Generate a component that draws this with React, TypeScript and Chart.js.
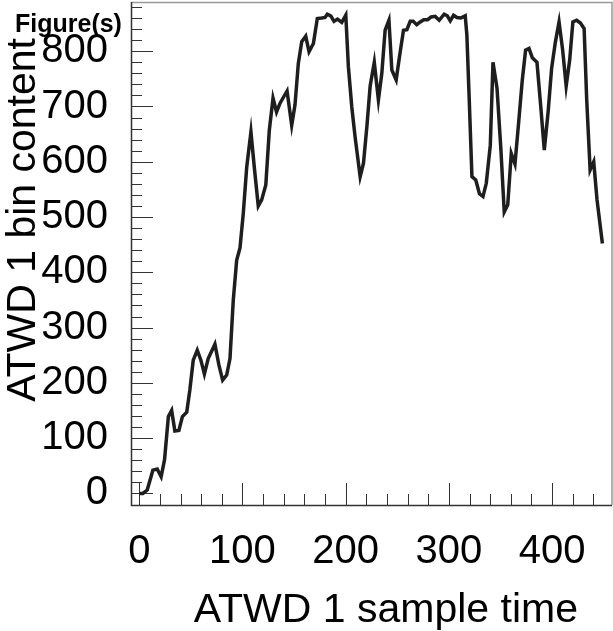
import React, { useEffect, useRef } from "react";
import { Chart, registerables } from "chart.js";

Chart.register(...registerables);

const FONT = '"Liberation Sans", Arial, Helvetica, sans-serif';

// ATWD 1 sample time (x) and bin content (y)
const sampleTime = [
  0, 3.5, 7.7, 13.2, 17.4, 21.2, 24.5, 28.2, 31.4, 34.5, 38.4, 41.8, 46, 49, 52.3, 56.2, 59.7, 63.1, 66.8, 73.3,
  77.2, 80.8, 84.7, 87.9, 91.1, 94.4, 97.6, 100.8, 104.1, 108.2, 111.4, 115.3, 118.6, 122.6, 126, 129.6, 133, 136.4,
  143.2, 147.7, 150.9, 154.1, 157.4, 161.3, 164.5, 168.7, 172.5, 176.8, 180, 182.2, 185.5, 188.7, 192, 196.2, 200.1,
  202.6, 205.9, 209.1, 214, 217.2, 220.5, 223.7, 227.7, 231.7, 235, 238.2, 241.9, 244.7, 248.9, 252.1, 256, 259.3,
  262.5, 265.4, 268.8, 272.2, 275.6, 279.4, 282.8, 286.7, 290.6, 295.4, 298.4, 301.3, 304.5, 307.8, 311.6, 315.8,
  317.4, 319.7, 322.3, 326, 329.6, 333, 336.2, 340.1, 342.7, 346.6, 350.4, 353.6, 357, 360.4, 364, 367.5, 371.1,
  374.3, 377.6, 380.8, 385.3, 388.8, 392.4, 396.1, 399.5, 403.1, 406.7, 410.2, 413.6, 417, 420.1, 423.8, 427.4, 431,
  433.5, 436.8, 440.3, 443.5, 448.7,
];
const binContent = [
  0, 0, 6, 42, 44, 30, 61, 139, 150, 113, 114, 139, 147, 187, 241, 259, 241, 216, 244, 270,
  232, 205, 214, 244, 350, 422, 444, 507, 590, 654, 591, 520, 531, 558, 657, 715, 690, 706,
  728, 666, 703, 778, 817, 827, 799, 814, 859, 860, 861, 867, 864, 854, 858, 852, 865,
  772, 699, 645, 573, 597, 663, 737, 780, 712, 760, 838, 856, 766, 748, 790, 838, 839,
  854, 854, 848, 853, 857, 857, 862, 863, 856, 867, 864, 855, 865, 861, 860, 864,
  829, 712, 573, 567, 542, 537, 561, 630, 780, 733, 621, 509, 522, 615, 596, 670, 748,
  802, 805, 788, 780, 704, 621, 690, 769, 816, 853, 802, 737, 784, 853, 856, 851, 841,
  712, 585, 600, 531, 452,
];

const xRange = [-8, 458];
const yRange = [-21, 889];
const xMajorTicks = [0, 100, 200, 300, 400];
const yMajorTicks = [0, 100, 200, 300, 400, 500, 600, 700, 800];
const xTitle = "ATWD 1 sample time";
const yTitle = "ATWD 1 bin content";
const cornerLabel = "Figure(s)";

export default function App() {
  const ref = useRef<HTMLCanvasElement>(null);

  useEffect(() => {
    document.body.style.margin = "0";
    const canvas = ref.current;
    if (!canvas) return;
    const n = Math.min(sampleTime.length, binContent.length);
    const points = [];
    for (let i = 0; i < n; i++) points.push({ x: sampleTime[i], y: binContent[i] });

    const framePlugin = {
      id: "rootFrame",
      beforeDatasetsDraw(chart: any) {
        const { ctx, chartArea: a, scales } = chart;
        const xs = scales.x;
        const ys = scales.y;
        ctx.save();
        ctx.lineWidth = 1;
        ctx.strokeStyle = "#333";
        for (let v = 0; v <= xRange[1]; v += 20) {
          const px = Math.round(xs.getPixelForValue(v)) + 0.5;
          if (px < a.left || px > a.right) continue;
          const len = xMajorTicks.includes(v) ? 22 : 11;
          ctx.beginPath();
          ctx.moveTo(px, a.bottom);
          ctx.lineTo(px, a.bottom - len);
          ctx.stroke();
        }
        for (let v = 0; v <= yRange[1]; v += 20) {
          const py = Math.round(ys.getPixelForValue(v)) + 0.5;
          if (py < a.top || py > a.bottom) continue;
          const len = yMajorTicks.includes(v) ? 22 : 11;
          ctx.beginPath();
          ctx.moveTo(a.left, py);
          ctx.lineTo(a.left + len, py);
          ctx.stroke();
        }
        ctx.strokeStyle = "#999";
        ctx.lineWidth = 1.5;
        ctx.beginPath();
        ctx.moveTo(a.left, a.top + 0.5);
        ctx.lineTo(a.right, a.top + 0.5);
        ctx.lineTo(a.right, a.bottom);
        ctx.stroke();
        ctx.strokeStyle = "#333";
        ctx.lineWidth = 1.5;
        ctx.beginPath();
        ctx.moveTo(a.left + 0.5, a.top);
        ctx.lineTo(a.left + 0.5, a.bottom + 0.5);
        ctx.lineTo(a.right, a.bottom + 0.5);
        ctx.stroke();
        ctx.restore();
      },
      afterDraw(chart: any) {
        const { ctx } = chart;
        ctx.save();
        ctx.fillStyle = "#000";
        ctx.font = `41px ${FONT}`;
        ctx.textAlign = "right";
        ctx.textBaseline = "alphabetic";
        ctx.fillText(xTitle, 578, 622);
        ctx.save();
        ctx.font = `41px ${FONT}`;
        ctx.translate(35, 38);
        ctx.rotate(-Math.PI / 2);
        ctx.textAlign = "right";
        ctx.fillText(yTitle, 0, 0);
        ctx.restore();
        ctx.font = `bold 25px ${FONT}`;
        ctx.textAlign = "left";
        ctx.fillText(cornerLabel, 15, 32);
        ctx.restore();
      },
    };

    const chart = new Chart(canvas, {
      type: "line",
      data: {
        datasets: [
          {
            label: yTitle,
            data: points,
            borderColor: "#1e1e1e",
            borderWidth: 3.5,
            pointRadius: 0,
            tension: 0,
            fill: false,
          },
        ],
      },
      options: {
        animation: false,
        responsive: false,
        devicePixelRatio: 1,
        layout: { padding: { top: 2, right: 1, left: 0, bottom: 0 } },
        plugins: { legend: { display: false }, tooltip: { enabled: false }, title: { display: false } },
        scales: {
          x: {
            type: "linear",
            min: xRange[0],
            max: xRange[1],
            grid: { display: false, drawTicks: false, tickLength: 0 },
            border: { display: false },
            afterBuildTicks(s: any) {
              s.ticks = xMajorTicks.map((v) => ({ value: v }));
            },
            ticks: {
              autoSkip: false,
              maxRotation: 0,
              padding: 23,
              color: "#000",
              font: { family: FONT, size: 40 },
            },
            afterFit(s: any) {
              s.height = 126;
              s.paddingLeft = 0;
              s.paddingRight = 0;
            },
          },
          y: {
            type: "linear",
            min: yRange[0],
            max: yRange[1],
            grid: { display: false, drawTicks: false, tickLength: 0 },
            border: { display: false },
            afterBuildTicks(s: any) {
              s.ticks = yMajorTicks.map((v) => ({ value: v }));
            },
            ticks: {
              autoSkip: false,
              padding: 23,
              color: "#000",
              font: { family: FONT, size: 40 },
            },
            afterFit(s: any) {
              s.width = 131;
              s.paddingTop = 0;
              s.paddingBottom = 0;
            },
          },
        },
      },
      plugins: [framePlugin],
    });
    return () => chart.destroy();
  }, []);

  return (
    <div style={{ position: "fixed", left: 0, top: 0, width: 613, height: 631, background: "#fff" }}>
      <canvas ref={ref} width={613} height={631} />
    </div>
  );
}
